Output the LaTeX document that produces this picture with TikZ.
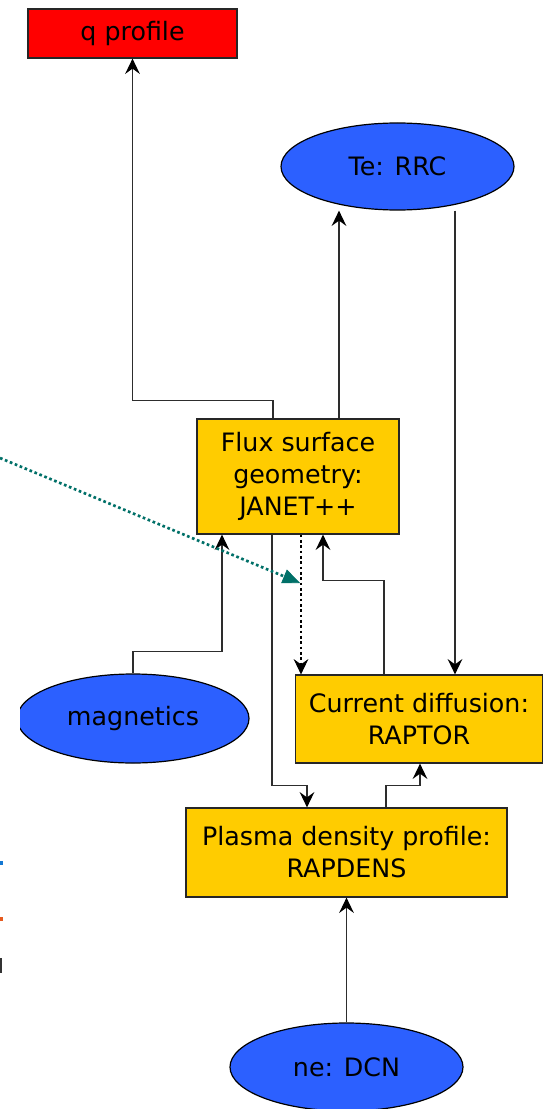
\documentclass[tikz,border=0pt]{standalone}
\usepackage{fontspec}
\setmainfont{DejaVu Sans}
\usetikzlibrary{shapes.geometric,arrows.meta,calc}
\definecolor{boxyellow}{RGB}{255,204,0}
\definecolor{ellblue}{RGB}{44,96,255}
\definecolor{qred}{RGB}{255,0,0}
\definecolor{tealc}{RGB}{0,112,104}
\definecolor{linegray}{RGB}{45,45,45}
\definecolor{markblue}{RGB}{20,120,210}
\definecolor{markorange}{RGB}{230,90,30}
\begin{document}
\begin{tikzpicture}[x=0.75pt,y={(0pt,-0.75pt)},
  every node/.style={font=\fontsize{19}{24}\selectfont, text=black},
  boxnode/.style={rectangle, draw=black!85, line width=0.9pt, fill=boxyellow, align=center, inner sep=2pt},
  ellnode/.style={ellipse, draw=black, line width=0.9pt, fill=ellblue, minimum width=174.75pt, minimum height=65.25pt, inner sep=0pt},
  conn/.style={draw=linegray, line width=1pt, -{Stealth[length=11.5pt,width=11pt,inset=4pt,color=black]}},
  dotconn/.style={draw=black, line width=2pt, dash pattern=on 2pt off 2pt, -{Stealth[length=11.5pt,width=11pt,inset=4pt,line width=0.5pt]}},
  tealconn/.style={draw=tealc, line width=2pt, dash pattern=on 2pt off 2pt, -{Triangle[length=13pt,width=11pt,line width=0.5pt]}}
]
\useasboundingbox (0,0) rectangle (543,1109);
\fill[white] (0,0) rectangle (543,1109);

% nodes
\node[boxnode, fill=qred, minimum width=156.75pt, minimum height=36.75pt] (q) at (132.5,33.5) {q profile};
\node[ellnode] (te) at (397.5,166.5) {Te: RRC};
\node[boxnode, minimum width=151.5pt, minimum height=86.25pt] (flux) at (298,476.5) {Flux surface\\geometry:\\JANET++};
\node[boxnode, minimum width=185.25pt, minimum height=66pt] (cur) at (419,719) {Current diffusion:\\RAPTOR};
\node[boxnode, minimum width=240.75pt, minimum height=66.75pt] (plasma) at (346.5,852.5) {Plasma density profile:\\RAPDENS};
\begin{scope}
  \clip (20,600) rectangle (300,800);
  \node[ellnode, minimum width=174pt, minimum height=66.75pt] (mag) at (133,718.5) {magnetics};
\end{scope}
\node[ellnode, minimum height=66pt] (ne) at (346.5,1067) {ne: DCN};

% connectors
\draw[conn] ($(flux.north)+(-25,0)$) -- ++(0,-18) -| (q.south);
\coordinate (ft) at ($(flux.north)+(41,0)$);
\draw[conn] (ft) -- (ft |- te.south);
\coordinate (tc) at ($(cur.north)+(36,0)$);
\draw[conn] (tc |- te.south) -- (tc);
\coordinate (dc) at ($(cur.north)+(-118,0)$);
\draw[dotconn] (dc |- flux.south) -- (dc);
\draw[conn] ($(cur.north)+(-35,0)$) -- ++(0,-94) -| ($(flux.south)+(25,0)$);
\draw[conn] (mag.north) -- ++(0,-22) -| ($(flux.south)+(-76,0)$);
\coordinate (p1) at ($(plasma.north)+(-39.5,-22)$);
\draw[conn] ($(flux.south)+(-26,0)$) |- (p1) -- ($(plasma.north)+(-39.5,0)$);
\draw[conn] ($(plasma.north)+(39.5,0)$) -- ++(0,-22) -| ($(cur.south)+(1,0)$);
\draw[conn] (ne.north) -- (plasma.south);
\coordinate (tealstart) at (0,458);
\coordinate (tealend) at (300,583);
\draw[tealconn] (tealstart) -- (tealend);

% clipped fragments at the left edge
\fill[markblue] (0,861) rectangle (2.5,865);
\fill[markorange] (0,917) rectangle (2.5,921);
\fill[black!80] (0,958) rectangle (1.5,973);
\end{tikzpicture}
\end{document}
